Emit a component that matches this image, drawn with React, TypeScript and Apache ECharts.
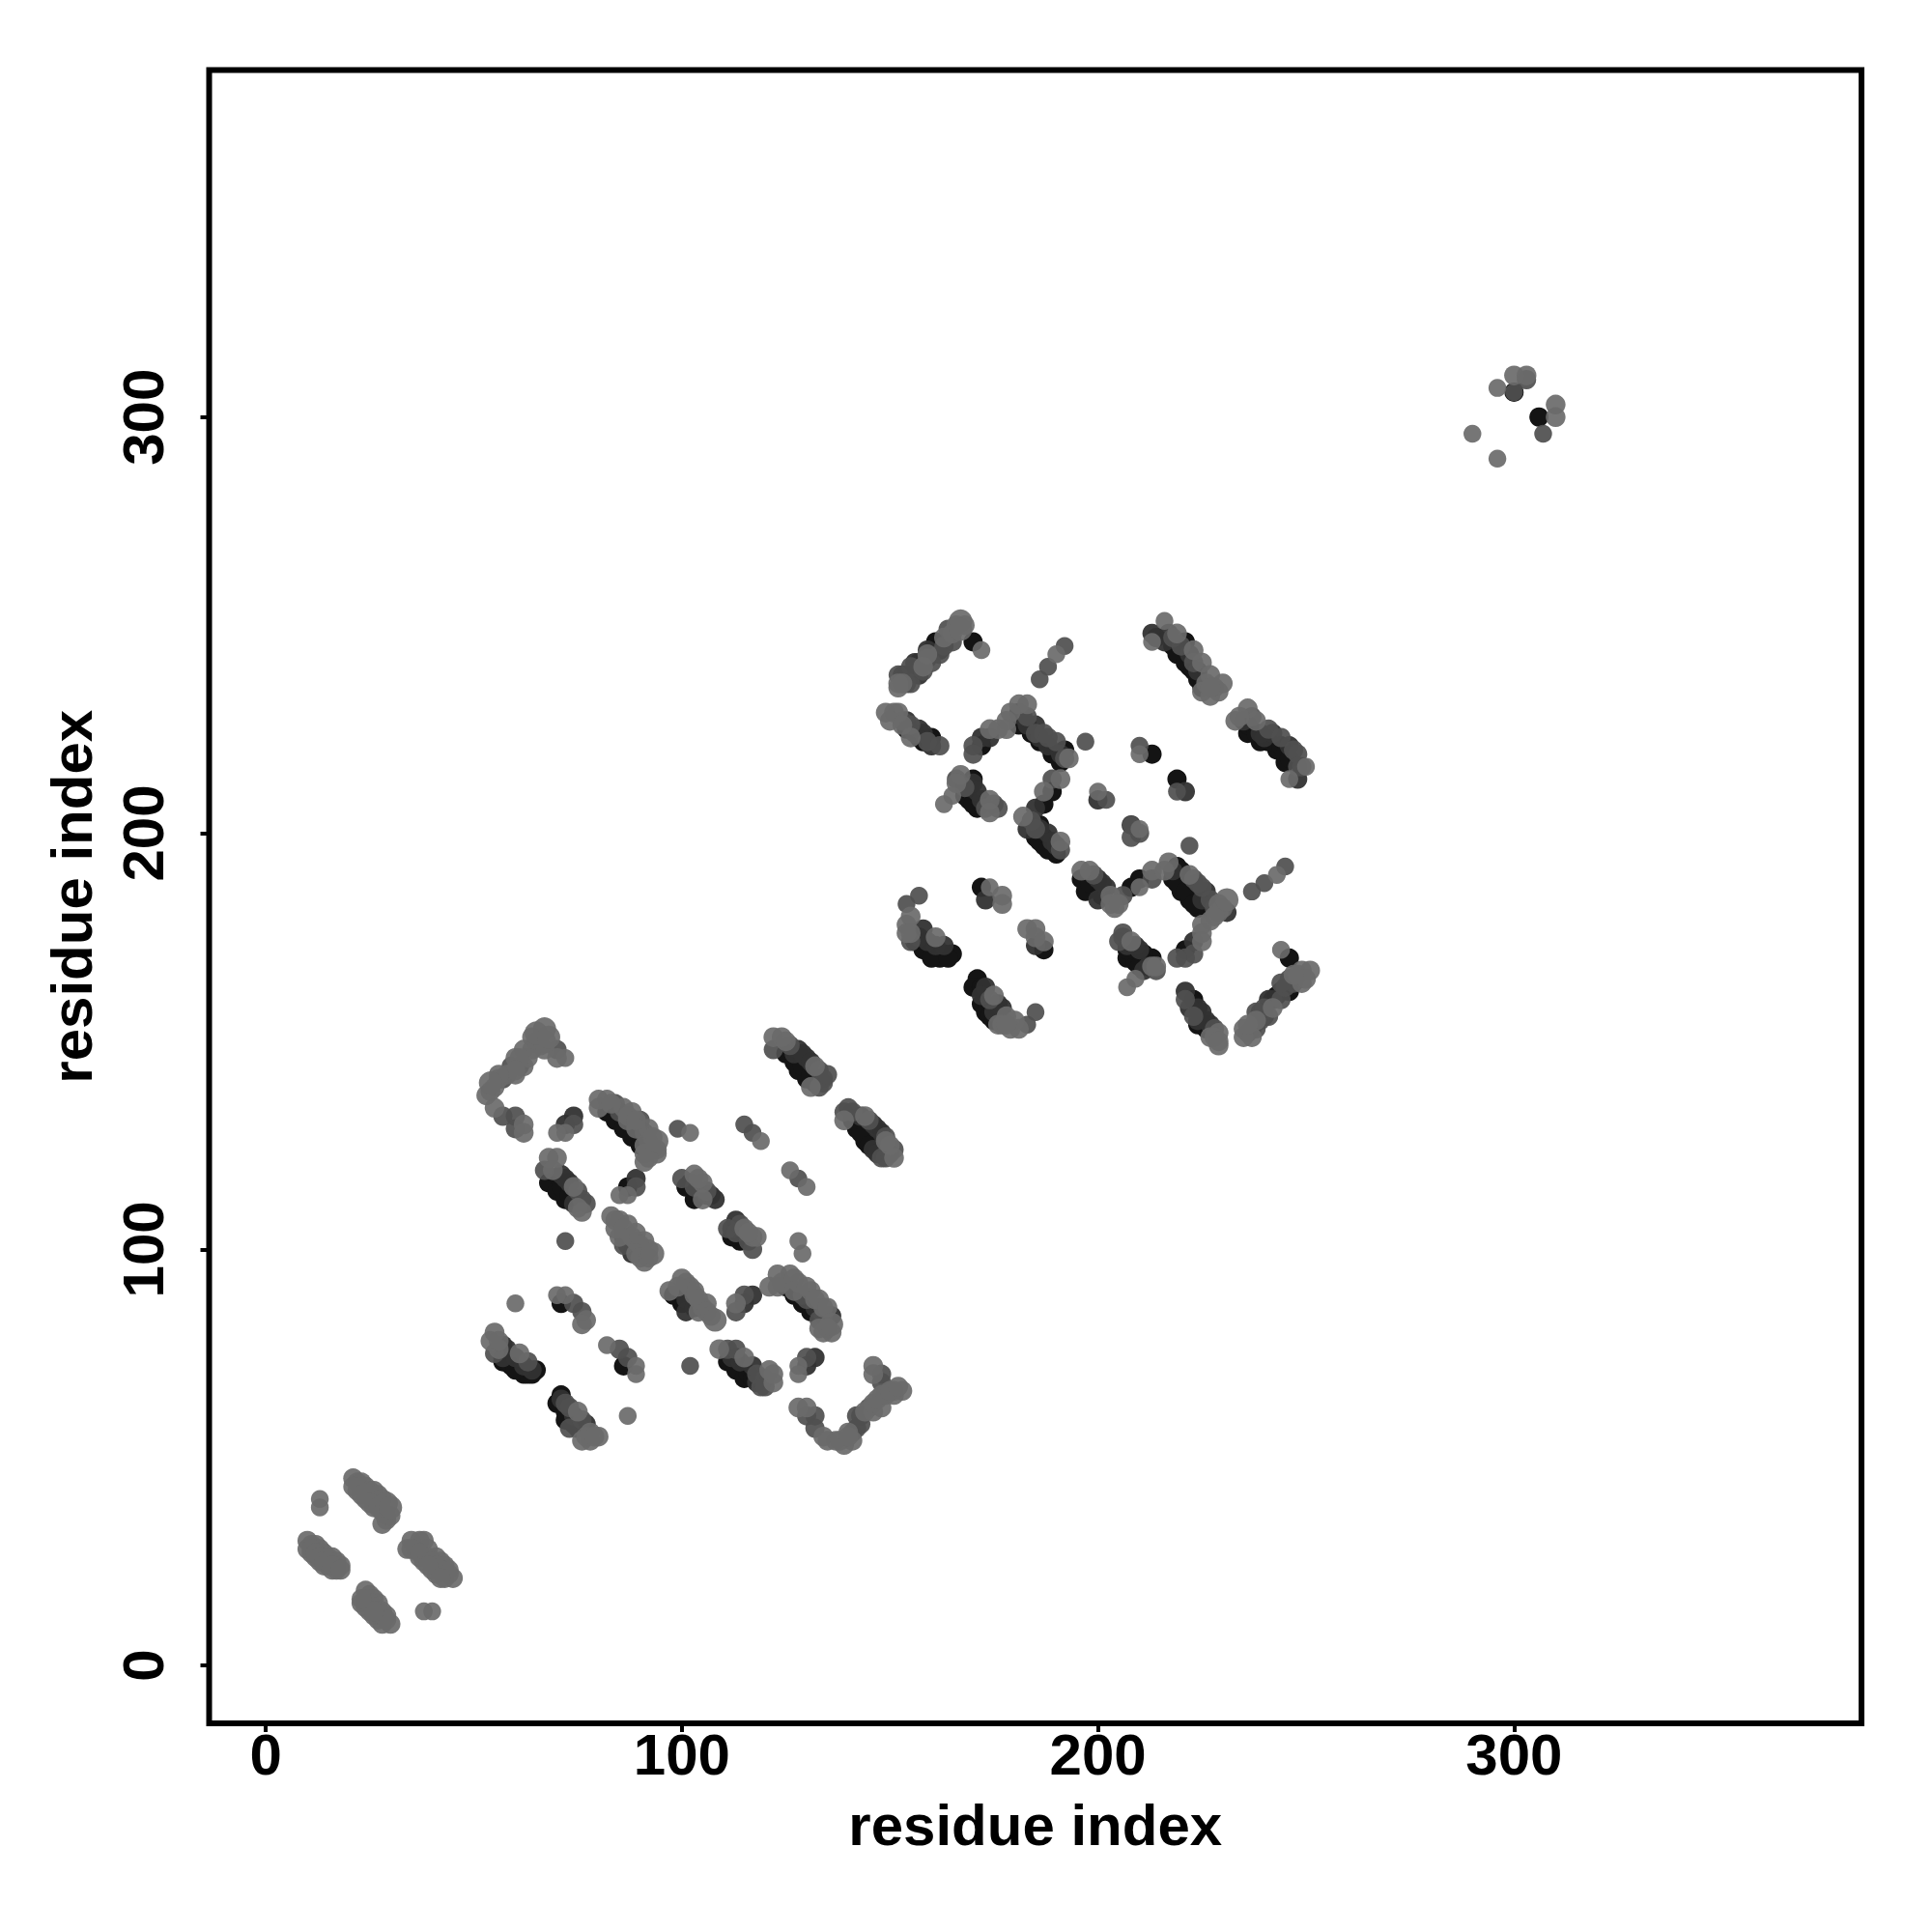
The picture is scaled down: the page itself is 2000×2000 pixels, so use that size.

import React, { useEffect, useRef } from "react";
import * as echarts from "echarts";

// each contact: [residue x, residue y, score class]
type C = [number, number, number];
const tickValues = [0, 100, 200, 300];
const axisTitle = "residue index";

const domainA: C[] = [
  [21,45,1],[22,44,1],[23,44,1],[24,43,1],[25,42,1],[26,42,1],[27,41,1],[28,40,1],[29,39,0],[30,38,0],[22,42,1],[24,40,1],[26,38,1],[28,37,1],[29,36,1],[28,34,1],
  [21,43,1],[23,41,1],[25,39,1],[27,38,1],[29,35,1],[30,36,1],
  [13,40,5],[13,38,5],
  [10,30,1],[11,29,1],[12,29,1],[13,28,1],[14,27,1],[15,26,1],[16,26,1],[17,25,1],[18,24,1],[10,28,1],[11,27,1],[12,26,1],[13,25,1],[14,24,1],[15,24,1],[16,23,1],[17,23,1],
  [11,28,1],[12,27,1],[13,26,1],[14,25,1],[15,25,1],[16,24,1],[18,23,1],
  [35,30,1],[37,30,1],[38,30,1],[34,28,1],[36,28,1],[39,28,1],[41,26,1],[42,25,1],[43,24,1],[44,23,1],[45,21,1],[37,26,1],[38,25,1],[40,23,1],[41,22,1],[43,21,1],
  [35,28,1],[37,27,1],[39,26,1],[40,25,1],[41,24,1],[42,23,1],[44,22,1],[39,24,1],[42,21,1],
  [24,18,1],[25,17,1],[26,16,1],[27,15,1],[28,13,1],[29,12,1],[30,10,1],[23,15,1],[24,14,1],[25,13,1],[26,12,1],[27,11,1],[28,10,1],
  [24,16,1],[25,15,1],[26,14,1],[27,13,1],[28,12,1],[29,11,1],[26,13,1],[23,16,1],
  [38,13,5],[40,13,5],
];

const domainB1: C[] = [
  [64,151,1],[67,153,0],[67,150,0],[62,148,1],[64,148,1],[67,148,1],[70,148,2],[72,146,5],[70,146,1],[60,146,1],[61,144,3],[62,144,1],[58,142,1],[60,142,1],[56,141,1],[54,140,0],[53,137,1],[55,134,1],[57,132,2],[60,132,2],[60,129,2],[62,130,1],[62,128,1],
  [65,150,1],[66,149,1],[63,146,1],[61,146,1],[59,144,2],[60,143,1],[57,141,2],[55,139,1],[54,138,1],[56,142,1],[65,152,0],[68,151,0],
  [70,128,5],[72,128,5],[72,130,3],[74,130,2],[74,132,3],
  [80,136,1],[82,136,1],[80,134,1],[84,135,2],[82,133,4],[84,131,4],[86,129,4],[88,127,4],[90,125,4],[86,134,1],[88,133,1],[87,131,1],[90,131,2],[89,129,1],[92,129,1],[94,126,0],[94,124,1],[91,125,1],[91,121,1],
  [83,135,1],[85,133,2],[87,132,1],[89,131,1],[91,128,2],[93,127,1],[93,124,1],[92,126,2],[91,123,1],[94,123,1],[92,122,1],
  [85,113,5],[87,113,5],[87,115,4],[89,115,2],[89,117,3],
  [99,129,6],[102,128,5],
  [68,122,1],[70,122,1],[67,119,2],[69,119,1],[68,116,4],[70,114,4],[72,112,4],[72,117,3],[74,115,1],[76,112,2],[76,109,1],
  [71,118,3],[73,116,3],[75,114,2],[71,115,4],[73,113,4],[75,110,1],[77,111,2],[74,111,3],
  [72,102,6],
  [83,108,1],[84,105,1],[85,107,1],[87,106,1],[89,104,1],[86,101,2],[86,103,3],[88,99,3],[89,102,1],[91,102,1],[93,99,0],[91,97,1],
  [84,107,1],[86,105,1],[88,103,1],[90,101,1],[92,100,1],[85,103,1],[87,101,3],[89,99,1],[90,98,1],[92,98,1],
  [60,87,5],
  [70,89,5],[72,89,5],[71,87,4],[74,87,2],[76,85,2],[77,83,1],[76,82,1],
  [55,80,1],[54,78,1],[57,77,3],[56,76,1],[61,75,1],[63,73,2],[65,71,4],[62,70,4],[59,72,4],[57,74,3],[63,70,4],
  [56,78,1],[58,76,3],[60,74,3],[62,72,3],[64,71,3],[55,75,2],[57,73,4],[60,71,4],[64,70,4],
  [82,77,5],[85,76,2],[87,74,2],[86,72,4],[89,72,5],[89,70,5],
  [87,60,5],[102,72,6],
  [71,65,4],[70,63,4],[72,63,2],[75,61,1],[72,59,4],[77,58,3],[73,57,2],[78,56,1],[80,55,1],[76,54,1],[78,54,1],
  [71,64,3],[73,62,2],[74,60,3],[76,59,2],[75,57,4],[77,55,1],[79,55,1],[72,61,4],[74,58,4],
];

const domainB2: C[] = [
  [100,93,1],[97,90,1],[102,91,1],[98,89,4],[100,87,4],[101,85,3],[103,89,1],[106,87,1],[104,85,1],[108,83,0],
  [101,92,1],[103,90,1],[104,88,1],[105,86,1],[99,91,1],[101,88,3],[103,86,3],[106,85,1],[107,84,1],
  [115,130,6],[117,128,6],[119,126,5],
  [126,119,5],[128,117,6],[130,115,5],
  [128,102,5],[129,99,5],
  [122,151,1],[124,151,1],[122,148,2],[125,150,1],[128,148,3],[130,146,3],[132,144,1],[134,141,2],[133,139,2],[131,139,1],[125,147,4],[127,145,4],[128,143,4],[130,141,4],
  [126,149,2],[127,147,3],[129,147,3],[131,145,3],[133,143,2],[129,144,4],[131,142,4],[132,140,4],[134,140,2],[135,142,2],
  [140,134,2],[139,133,2],[139,131,1],[144,132,1],[146,130,3],[148,128,3],[149,126,1],[151,124,2],[151,122,1],[148,122,2],[142,129,4],[144,126,4],[146,124,3],
  [141,133,2],[143,132,3],[145,131,2],[147,129,3],[149,127,2],[150,125,1],[143,128,4],[145,125,4],[147,123,3],[149,122,2],[150,123,2],[141,131,4],
  [103,118,1],[100,117,2],[101,115,4],[105,116,1],[107,113,3],[105,112,1],[103,112,4],
  [102,116,4],[104,114,4],[106,113,3],[103,115,2],[104,117,1],[106,114,2],[108,112,3],
  [113,107,3],[111,105,2],[112,105,3],[115,105,1],[117,103,1],[114,102,4],[117,100,2],
  [113,104,2],[114,106,2],[115,103,4],[116,102,2],[118,103,1],[116,104,1],[112,103,4],
  [117,89,3],[115,87,3],[115,89,2],[113,87,1],[113,85,2],
  [123,94,1],[126,94,1],[121,91,1],[123,91,1],[125,91,4],[127,89,4],[129,87,4],[131,85,4],[128,92,1],[131,90,1],[130,88,2],[133,88,1],[134,86,1],[135,84,3],[133,83,2],[136,82,0],[134,80,1],[136,80,1],
  [124,92,1],[127,93,1],[127,90,1],[129,89,2],[130,91,1],[132,88,1],[132,86,3],[134,84,2],[135,86,1],[136,84,3],[135,81,1],[133,81,1],
  [109,76,1],[111,76,2],[113,76,2],[111,73,4],[113,71,4],[115,74,1],[117,72,3],[115,69,4],[118,70,2],[119,67,2],[122,70,1],[122,68,1],
  [112,74,3],[114,73,3],[116,70,4],[117,69,4],[120,69,2],[121,71,1],[113,74,4],[120,67,2],[118,68,3],
  [132,74,3],[130,74,2],[130,72,3],[128,72,5],[128,70,5],
  [128,62,1],[130,62,1],[130,60,2],[132,60,2],[132,57,2],[134,55,1],[137,54,1],[139,53,1],[141,54,1],[140,56,1],[142,57,2],[142,60,2],[144,61,1],[146,61,1],[146,63,1],[148,62,1],[148,65,1],[151,65,1],[153,66,1],[151,66,1],[148,68,2],[148,70,2],[146,72,1],[146,70,1],
  [135,54,1],[138,54,1],[140,55,1],[141,56,2],[143,58,2],[143,60,2],[145,62,2],[147,64,1],[149,65,1],[150,66,1],[152,67,1],
];

const domainC1: C[] = [
  [167,251,0],[167,249,0],[164,249,2],[165,246,2],[163,247,1],[170,246,4],[172,244,5],[161,246,4],[162,244,4],[159,244,3],[159,243,1],[160,241,2],[156,241,3],[158,240,1],[157,238,3],[154,238,3],[152,238,2],[152,236,1],[152,235,1],[154,236,2],
  [153,238,3],[155,240,2],[157,241,3],[159,242,2],[160,244,4],[163,245,2],[165,248,1],[166,250,1],[168,250,1],[155,236,2],[158,239,2],[162,243,2],[153,236,1],
  [149,229,1],[151,229,1],[152,229,1],[150,227,1],[154,227,3],[154,225,4],[157,225,3],[155,223,1],[157,223,4],[160,223,4],[160,221,3],[162,221,2],
  [153,227,2],[155,226,2],[156,224,3],[158,224,3],[158,222,4],[153,226,1],[159,222,2],
  [192,245,6],[190,243,5],[188,240,6],[186,237,6],
  [181,231,1],[183,231,1],[178,227,1],[179,229,1],[181,229,4],[176,225,1],[178,225,1],[174,225,1],[183,228,2],[181,226,4],[184,224,4],[186,222,4],[189,219,4],[191,217,4],[185,226,3],[187,224,2],[190,222,2],[192,220,4],[193,218,1],
  [185,224,2],[186,223,3],[188,221,3],[191,219,3],[192,218,2],[182,228,3],[183,226,3],[188,223,2],
  [197,222,6],
  [172,223,3],[170,221,2],[174,223,3],[172,221,4],[170,219,2],
  [191,213,1],[189,213,2],[189,210,4],[187,210,1],[187,207,4],[185,206,3],[182,204,1],[186,202,4],[184,203,2],
  [167,214,1],[166,213,2],[170,213,4],[168,211,2],[171,210,3],[168,209,4],[174,208,1],[171,206,4],[176,206,2],[174,205,1],[165,209,5],[163,207,5],
  [169,211,3],[170,212,3],[172,208,3],[169,208,4],[170,207,4],[173,206,2],[175,207,2],[166,212,1],[172,207,4],
  [210,221,6],[210,219,5],[213,219,4],
  [219,213,4],[219,210,6],[221,210,3],
  [200,210,5],[200,208,3],[202,208,6],
  [208,202,6],[210,201,5],
  [216,251,5],[213,248,3],[213,246,5],[217,248,3],[219,248,1],[221,246,4],[218,245,4],[223,244,1],[220,243,4],[225,241,1],[222,240,4],[227,238,1],[224,237,4],[230,236,1],[227,233,1],[225,234,1],
  [214,247,3],[216,246,3],[218,247,2],[220,245,2],[222,243,3],[223,241,2],[224,239,3],[226,236,1],[228,235,1],[229,234,1],[227,235,1],[219,243,4],[221,241,4],[223,239,4],[225,235,4],
  [236,230,1],[233,227,1],[235,227,3],[238,227,1],[236,224,4],[241,225,2],[239,222,4],[244,223,2],[246,221,3],[243,220,4],[245,217,4],[248,219,2],[250,216,5],[249,216,2],[248,213,3],[246,213,5],
  [234,228,1],[236,226,4],[237,228,2],[239,224,3],[238,224,4],[240,223,3],[241,222,4],[242,224,3],[244,221,4],[245,219,4],[247,220,2],[246,218,4],[248,216,2],
];

const domainC2: C[] = [
  [188,200,3],[186,201,3],[184,203,3],[185,199,4],[187,197,4],[190,195,4],[191,198,1],
  [183,201,3],[185,201,2],[187,199,4],[189,198,3],[190,197,3],[186,198,4],[188,196,4],[191,196,2],
  [157,185,6],[154,183,6],[155,180,1],[154,178,1],[154,176,1],[158,177,3],[156,174,4],[161,175,1],[163,173,3],[160,172,4],[165,171,4],[162,170,4],
  [155,176,1],[157,175,3],[159,174,3],[161,173,3],[163,171,4],[158,172,4],[160,170,4],[155,174,2],[164,170,4],
  [172,187,4],[174,187,5],[173,184,3],[177,185,1],[177,183,1],
  [183,177,1],[185,177,1],[185,175,1],[187,174,1],[187,172,4],[185,173,3],
  [171,165,4],[170,163,4],[173,163,3],[175,161,1],[172,159,4],[177,158,3],[173,157,4],[178,156,1],[180,155,1],[176,154,1],[179,153,1],[181,153,1],[183,154,6],[185,157,6],
  [172,163,4],[172,161,3],[174,160,2],[176,159,3],[174,156,4],[175,155,4],[177,154,1],[178,154,1],[175,157,3],
  [210,200,2],[208,202,3],[208,199,2],
  [222,197,6],
  [198,191,1],[196,191,1],[196,189,4],[200,189,3],[202,187,3],[197,186,4],[200,184,3],[203,185,1],[204,182,1],[206,185,2],
  [199,187,4],[199,190,2],[201,188,3],[201,185,4],[203,183,1],[205,183,1],[198,188,4],
  [208,187,4],[210,189,4],[210,187,5],[213,191,1],[213,189,2],
  [217,193,1],[216,191,1],[219,192,4],[218,189,4],[222,190,1],[224,188,2],[220,186,4],[222,184,4],[226,186,3],[227,184,2],[224,182,4],[231,184,0],[231,181,3],[229,181,1],[227,179,1],
  [218,191,3],[220,191,4],[221,188,4],[223,186,4],[225,184,3],[226,182,4],[223,189,2],[225,187,2],[228,182,2],[229,183,1],[230,182,1],[228,180,1],[219,188,4],[221,186,4],[223,183,4],
  [225,178,1],[225,176,1],[225,174,1],[223,174,3],[223,171,2],[221,172,4],[221,170,2],[219,170,2],
  [206,176,2],[205,174,2],[208,174,1],[210,172,3],[207,170,4],[213,170,4],[209,169,4],[214,168,1],[211,167,3],[214,167,2],
  [206,175,2],[207,173,3],[208,172,4],[209,173,3],[211,171,4],[211,169,4],[212,168,3],[213,168,1],[210,168,4],[207,172,4],
  [209,165,5],[207,163,5],
  [221,162,3],[221,160,2],[223,160,4],[225,157,3],[223,156,2],[227,154,3],[224,154,4],[229,152,1],[227,151,1],[229,149,1],
  [222,158,3],[224,158,3],[224,155,3],[226,155,3],[228,153,2],[228,151,1],[226,153,4],[229,150,1],
  [244,172,5],[246,170,4],[251,167,1],[249,167,1],[246,165,2],[249,164,1],[246,162,4],[244,162,4],[244,160,2],[241,160,3],[242,158,1],[238,157,2],[241,156,2],[238,155,1],[238,153,2],[235,153,1],[235,151,1],[237,151,1],
  [236,152,2],[237,153,3],[239,155,2],[239,157,3],[240,158,2],[242,160,3],[243,161,4],[245,163,2],[247,164,2],[248,166,1],[250,165,1],[247,166,1],[236,154,1],[240,156,3],[244,164,2],
  [245,192,6],[243,190,5],[240,188,6],[237,186,6],
];

const domainD: C[] = [
  [290,296,5],[296,290,5],[296,307,5],[300,310,1],[303,310,1],[303,309,2],[300,306,6],[300,306,4],[306,300,4],[307,296,6],[310,303,1],[310,300,1],
];

const contacts: C[] = [...domainA, ...domainB1, ...domainB2, ...domainC1, ...domainC2, ...domainD];

// score class -> appearance
const shade = ["#6a6a6a", "#6a6a6a", "#505050", "#323232", "#141414", "#6a6a6a", "#505050"];
const alpha = [0.92, 0.92, 0.93, 0.95, 1, 0.92, 0.93];
const diameter = [24, 20.5, 20, 20, 20, 18.5, 18.5];
const paintRank = [0, 0.5, 2, 3, 4, 1, 2];

export default function App() {
  const ref = useRef<HTMLDivElement>(null);
  useEffect(() => {
    const chart = echarts.init(ref.current!, null, { renderer: "svg" });
    const ordered = [...contacts].sort((a, b) => paintRank[b[2]] - paintRank[a[2]]);
    const font = { fontFamily: "Liberation Sans", fontWeight: "bold" as const, fontSize: 60, color: "#000" };
    const axis = {
      type: "value" as const,
      splitLine: { show: false },
      axisLine: { show: false, onZero: false },
      axisTick: { show: true, length: 9, customValues: tickValues, lineStyle: { width: 4, color: "#000" } },
      name: axisTitle,
      nameLocation: "middle" as const,
      nameTextStyle: font,
    };
    chart.setOption({
      animation: false,
      backgroundColor: "#fff",
      grid: { left: 216.5, top: 72.5, width: 1710.5, height: 1711.5, show: true, borderColor: "#000", borderWidth: 6, backgroundColor: "#fff" },
      xAxis: { ...axis, min: -13.6, max: 383.5, nameGap: 75, axisLabel: { ...font, margin: 2, customValues: tickValues } },
      yAxis: { ...axis, min: -13.9, max: 383.4, nameGap: 112, axisLabel: { ...font, rotate: 90, margin: 38, customValues: tickValues } },
      series: [{
        type: "scatter",
        data: ordered.map((c) => ({
          value: [c[0], c[1]],
          symbolSize: diameter[c[2]],
          itemStyle: { color: shade[c[2]], opacity: alpha[c[2]] },
        })),
        symbol: "circle",
        silent: true,
      }],
    });
    return () => chart.dispose();
  }, []);
  return <div ref={ref} style={{ position: "fixed", left: 0, top: 0, width: 2000, height: 2000 }} />;
}
